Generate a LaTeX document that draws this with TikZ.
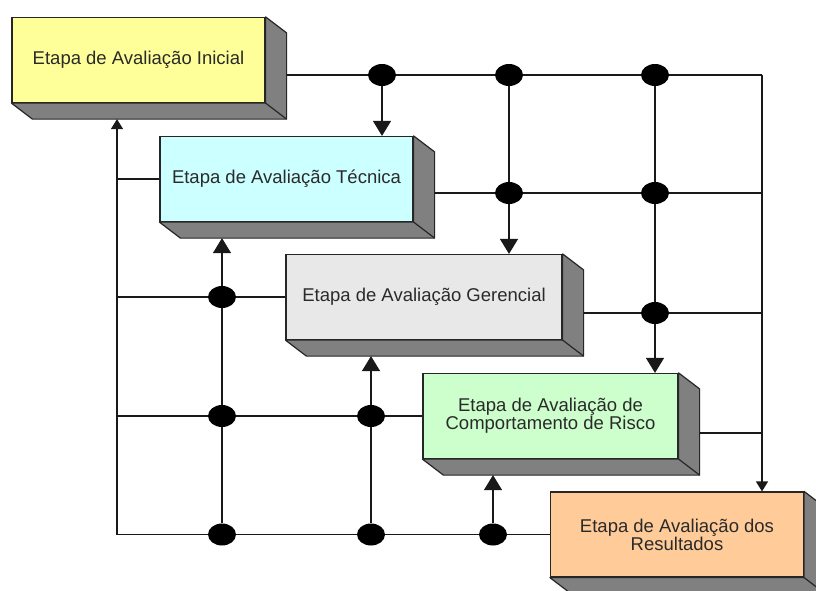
\documentclass[tikz,border=0pt]{standalone}
\usepackage{fontspec}
\setmainfont{Liberation Sans}
\usetikzlibrary{shapes.geometric,arrows.meta}

\definecolor{inicial}{HTML}{FFFF99}
\definecolor{tecnica}{HTML}{CCFFFF}
\definecolor{gerencial}{HTML}{E8E8E8}
\definecolor{risco}{HTML}{CCFFCC}
\definecolor{resultados}{HTML}{FFCC99}
\definecolor{lateral}{HTML}{808080}
\definecolor{texto}{HTML}{2A2A2A}

\begin{document}
\begin{tikzpicture}
      [
        x = 1pt, y = -1pt,
        etapa/.style = {draw=black!85, line width=1.2pt, fill=#1, minimum width=253pt,
            minimum height=85pt, align=center, text=texto,
            font=\fontsize{18.5}{18}\selectfont},
        lado/.style = {draw=black!85, line width=1.2pt, fill=lateral, line join=round},
        juncao/.style = {ellipse, fill=black, minimum width=28pt, minimum height=22pt, inner sep=0pt},
        linha/.style = {draw=black!90, line width=1.2pt},
        seta/.style = {linha, -{Triangle[width=18pt,length=15pt]}},
        setinha/.style = {linha, -{Triangle[width=12pt,length=10pt]}},
      ]

      \fill[white] (0,0) rectangle (816,590);
      \clip (0,0) rectangle (816,590);

      \node[etapa=inicial] (ini) at (138.5,60) {Etapa de Avaliação Inicial};
      \node[etapa=tecnica] (tec) at (286.5,179) {Etapa de Avaliação Técnica};
      \node[etapa=gerencial, minimum width=276pt] (ger) at (424,297) {Etapa de Avaliação Gerencial};
      \node[etapa=risco, minimum width=255pt] (ris) at (550.5,416) {Etapa de Avaliação de\\Comportamento de Risco};
      \node[etapa=resultados] (res) at (677,534.5) {Etapa de Avaliação dos\\Resultados};

      \foreach \b in {ini,tec,ger,ris,res} {
          \filldraw[lado] (\b.north east) -- ++(21,16) -- ([shift={(21,16)}]\b.south east)
            -- ([shift={(21,16)}]\b.south west) -- (\b.south west) -- (\b.south east) -- cycle;
          \draw[lado] (\b.south east) -- ++(21,16);
        }

      \node[juncao] (a1) at (382,75) {};
      \node[juncao] (a2) at (509,75) {};
      \node[juncao] (a3) at (655,75) {};
      \node[juncao] (b2) at (509,193) {};
      \node[juncao] (b3) at (655,193) {};
      \node[juncao] (c3) at (655,313) {};
      \node[juncao] (d1) at (222,297) {};
      \node[juncao] (e1) at (222,416) {};
      \node[juncao] (e2) at (371,416) {};
      \node[juncao] (f1) at (222,534.5) {};
      \node[juncao] (f2) at (371,534.5) {};
      \node[juncao] (f3) at (493,534.5) {};

      \coordinate (ini-s) at ([shift={(21,15)}]ini.east);
      \coordinate (tec-s) at ([shift={(21,14)}]tec.east);
      \coordinate (ger-s) at ([shift={(21,16)}]ger.east);
      \coordinate (ris-s) at ([shift={(21,17)}]ris.east);
      \coordinate (ini-b) at ([shift={(21,16)}]ini.south);
      \coordinate (tec-b) at ([shift={(21,16)}]tec.south);
      \coordinate (ger-b) at ([shift={(21,16)}]ger.south);
      \coordinate (ris-b) at ([shift={(21,16)}]ris.south);
      \coordinate (canto-ne) at (762,75);
      \coordinate (canto-so) at (117,534.5);

      \draw[linha] (ini-s) -- (a1) -- (a2) -- (a3) -- (canto-ne);
      \draw[setinha] (canto-ne) -- (canto-ne |- res.north);
      \draw[seta] (a1) -- (a1 |- tec.north);
      \draw[seta] (a2) -- (b2) -- (b2 |- ger.north);
      \draw[seta] (a3) -- (b3) -- (c3) -- (c3 |- ris.north);
      \draw[linha] (tec-s) -- (b2) -- (b3) -- (b3 -| canto-ne);
      \draw[linha] (ger-s) -- (c3) -- (c3 -| canto-ne);
      \draw[linha] (ris-s) -- (ris-s -| canto-ne);

      \draw[setinha] (canto-so) -- (canto-so |- ini-b);
      \draw[linha] (canto-so |- tec.west) -- (tec.west);
      \draw[linha] (canto-so |- ger.west) -- (d1) -- (ger.west);
      \draw[linha] (canto-so |- ris.west) -- (e1) -- (e2) -- (ris.west);
      \draw[linha] (canto-so) -- (f1) -- (f2) -- (f3) -- (res.west);
      \draw[seta] (f1) -- (e1) -- (d1) -- (d1 |- tec-b);
      \draw[seta] (f2) -- (e2) -- (e2 |- ger-b);
      \draw[seta] (f3) -- (f3 |- ris-b);

    \end{tikzpicture}
\end{document}
